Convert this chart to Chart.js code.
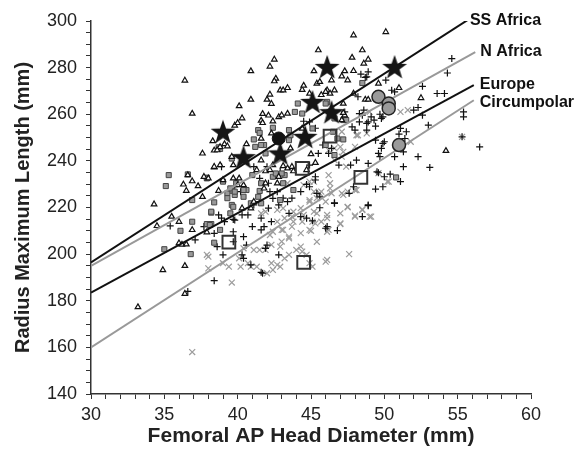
<!DOCTYPE html>
<html lang="en">
<head>
  <meta charset="UTF-8" />
  <title>Radius Maximum Length vs Femoral AP Head Diameter</title>
  <script src="https://cdn.jsdelivr.net/npm/chart.js"></script>
  <style>
    body { margin: 0; background: #fff; }
    #wrap { width: 582px; height: 452px; }
  </style>
</head>
<body>
  <div id="wrap"><canvas id="chart" width="582" height="452"></canvas></div>
  <script>
    // small open triangles
    const ssAfrica = [
      [36.4,274.5],[36.9,260.3],[40.9,278.5],[42.5,283.5],[42.2,280.5],[42.6,275.3],[42.5,274.2],[42.9,270.3],
      [43.1,270.3],[43.4,271.3],[40.9,266.3],[40.1,263.5],[40.3,258.3],[39.8,255.2],[40.0,256.3],[38.3,248.5],
      [37.6,243.2],[38.4,244.5],[39.1,247.2],[39.3,246.3],[42.2,268.5],[42.0,266.3],[42.3,264.5],[41.7,260.2],
      [42.1,259.5],[41.6,257.3],[41.7,256.3],[42.4,257],[42.8,258.8],[43.0,259.6],[45.5,287.5],[45.2,278.5],
      [44.4,270.5],[44.5,272.3],[45.4,273.2],[45.7,268.3],[46.1,270.3],[44.4,253.9],[45.0,242.9],[40.6,247.2],
      [39.6,241.8],[50.1,295.3],[47.9,293.9],[48.5,287.5],[47.8,284.3],[48.9,283.5],[48.6,281.8],[47.3,278.5],
      [47.9,278.6],[47.1,276.3],[47.5,274.6],[46.4,274.6],[46.6,270.3],[49.6,273.2],[51.0,271.3],[52.5,267],
      [47.2,264.6],[47.3,259.6],[48.7,266.3],[48.9,266.3],[54.2,244.3],[47.9,268.9],[47.2,260.6],[47.1,257.5],
      [34.3,221.4],[35.5,216.1],[34.5,212.1],[36.0,213.9],[34.9,193.2],[36.4,195],[36.0,204.7],[36.2,204.1],
      [36.5,204.2],[36.4,183],[33.2,177.3],[36.3,229.9],[36.6,233.9],[36.9,231.3],[36.5,227.2],[37.3,229.2],
      [37.7,233.2],[38.0,232.5],[38.4,237.2],[38.7,227.2],[36.9,210.4],[37.9,209.4],[39.0,231.8],[39.7,232.5],
      [40.1,232.5],[41.6,240.3],[41.9,230.4],[40.0,229.6],[42.4,238.2],[43.1,237.8],[42.8,233.2],[43.7,237.5],
      [45.3,239.2],[40.4,229.6],[41.8,228.2],[41.1,222.5],[40.9,219.7],[42.7,230.4],[43.8,235.6],[44.7,236.1],
      [43.4,236.8],[37.6,224.6],[40.3,219.7],[41.3,236.1],[41.9,235.6],[43.4,260.3],[38.8,246],[38.6,244.6],
      [41.6,249.6],[42.3,251.8],[43.6,245.4],[45.6,273.9],[46.3,268.9],[46.0,269.6],[44.9,268.9],[38.8,238.2],
      [39.7,238.2],[42.2,236.1],[38.4,237.5]
    ];
    // small grey filled squares
    const nAfrica = [
      [43.9,261],[44.1,264.6],[44.4,260.3],[41.4,253.2],[41.1,249.2],[41.2,246],[38.8,245.1],[42.4,254.2],
      [43.5,253.2],[46.1,265.3],[41.5,252],[43.5,248.9],[43.6,251],[38.7,245.8],[39.6,241],[45.1,253.9],
      [41.8,246.8],[46,264.6],[35.3,233.9],[35.1,229.2],[36.6,234.2],[37.9,232.8],[36.9,223.2],[38.4,222.2],
      [38.2,217.8],[36.9,213.9],[36.1,210],[37.9,212.9],[38.2,212.9],[38.8,210.4],[38.4,204.9],[35.0,202.1],
      [36.8,200],[39.6,227.2],[39.8,225.4],[39.9,230.4],[39.3,226.1],[40.4,224.6],[40.6,227.5],[40.9,221.8],
      [41.6,230.4],[41.9,243.2],[42.4,233.2],[43.8,227.5],[42.9,223.2],[43.1,230.4],[41.6,221.8],[39.5,217.5],
      [39.6,221.1],[41,233.9],[41.5,227.1],[42.6,234.6],[43.2,233.9],[38.1,212.5],[48.5,273.4],[47.2,257.5],
      [47.4,257.5],[46.5,252.5],[47.2,249.2],[46.8,249.6],[50.8,232.9],[46.6,258.2],[46,246.8],[46.6,242.5],
      [41.6,246.8],[37.9,232.5],[39,231.1],[39.5,228.2],[39.8,226.8],[39.3,224],[40.4,227.5],[39.7,220.3],
      [38.2,218.2],[41.4,224.6],[43,234.6]
    ];
    // black plus signs
    const europe = [
      [54.6,283.9],[54.3,277.7],[52.6,272],[53.6,268.9],[54.1,268.9],[50.5,270.3],[50.1,274.6],[48.7,275.8],
      [48.4,277.2],[52.3,262.9],[52.0,261.8],[52.6,259.6],[53.0,255.3],[55.4,261],[55.4,258.9],[51.1,253.9],
      [50.7,269.6],[49.7,260],[49.8,258.2],[56.5,246],[52.3,241.8],[50.7,241.8],[49.9,247.5],[51.5,252.5],
      [51.4,249.6],[49.9,258.9],[48.6,261.8],[48.5,259.6],[48.3,256.7],[48.8,253.2],[48.9,256.7],[49.3,257.5],
      [47.8,254.6],[50,248.2],[49.8,245.4],[51,251.5],[51.3,237.5],[53.1,237.2],[48.2,267.5],[48.8,276],
      [49.6,234.9],[50,233.2],[50.4,234.3],[51.1,231.1],[49.4,227.9],[49.9,228.9],[48.9,221.1],[48.5,216.1],
      [46.8,210.1],[46,211.1],[45.1,214.3],[45.6,219.9],[46.6,222],[45.4,226.1],[44.7,229.9],[45.3,233.2],
      [46.2,243.2],[47.7,238.2],[48.9,238.9],[48.1,240.3],[46.9,238.2],[49.6,243.2],[44.9,238.2],[45.3,231.8],
      [44.9,228.9],[44.3,226.8],[43.7,224],[43.1,224],[43.4,222.5],[42.1,219.7],[42.3,213.9],[41.8,211.8],
      [41.6,210.4],[42,203.9],[41.9,202.5],[40.4,207.5],[40.6,203.9],[40.4,198.2],[39,199.7],[41.6,192.2],
      [40.9,195.4],[39.7,209.6],[39.8,214.6],[40.3,216.8],[41.5,222.5],[42.2,226.8],[42.4,223.9],[42.8,221.1],
      [43.5,217.5],[44.3,216.1],[44.7,215.4],[46.1,211.8],[45.6,224.6],[38.7,216.8],[38.9,215.4],[38.4,208.9],
      [39.8,228.9],[40.2,226.8],[38.4,188.6],[36.6,184],[41.7,191.8],[35.4,212.1],[37.1,206.1],[39.1,213.9],
      [39.7,214.9],[37.7,211.8],[49.5,235.3],[48.9,220.8],[46.6,221.8],[47.9,228.9],[47.6,226.1],[55.3,250.3],
      [45.3,254],[44.5,257],[44.9,256.7],[45.8,246.8],[45.5,243.2],[46.4,245.4],[42,237.5],[41.1,237.5],
      [38.9,237.5],[48.9,278.2],[47.3,261],[48.3,260.3],[49.1,258.9],[48.8,256.1],[49.4,254.9],[48,253.2],
      [49.4,248.9],[51.3,243.9],[49.7,241.8],[42.9,235.4],[41.5,232.5],[42.1,230.4],[42.7,226.8],[41.1,221.1],
      [40.7,216.8],[41.6,215.4],[41,211.8],[39.7,205.3],[40.3,199.7],[38.6,203.2],[42.8,199.7]
    ];
    // grey x marks
    const circumpolar = [
      [38,198.9],[39.4,194.6],[38,193.9],[39.6,187.8],[40.9,194.6],[41.3,194.6],[42.3,196.1],[42.9,194.6],
      [43.5,206.8],[41.9,201.8],[42.9,203.2],[43.2,198.2],[44,201.8],[44.9,196.1],[46.1,197.5],[42,191.8],
      [42.4,193.2],[41.1,201.8],[43.8,213.9],[44.4,213.9],[45.1,213.9],[45.7,213.9],[46.2,210.4],[43,210.4],
      [42.2,208.2],[42.7,219],[43.1,219.7],[43.7,216.1],[45.2,226.8],[44.9,223.2],[45.6,226.1],[46.2,233.9],
      [45.2,231.1],[41.6,217.5],[45,210],[45.4,217.5],[46.1,215.4],[47,217.5],[47.5,220.1],[48.5,219.2],
      [48,216.1],[49.1,216.1],[47,212.9],[46,222.5],[47.1,226.1],[47.5,226.8],[48,227.5],[50.2,231.1],
      [49.6,234.7],[47.6,200],[46,196.8],[45.1,194.6],[44.4,201.1],[46.3,230.4],[37.9,199.7],[40.1,198.2],
      [40.4,202.5],[43.5,199.7],[43.5,207.5],[44.3,209],[44.9,210.4],[46.1,216.8],[42.7,213.9],[42.3,204],
      [41.5,201.8],[43,205.4],[41.9,218.2],[42.9,223.2],[44.3,219.7],[44.9,222.5],[45.4,224],[45.7,226.8],
      [46.4,226.1],[44.9,231.1],[44.5,229.6],[43.4,230.4],[43.8,218.2],[43.2,215.4],[48,216.5],[49,216.1],
      [48.5,218.9],[47.5,220.3],[47.2,225.4],[48.1,227.5],[47,213.2],[46.3,228.2],[50.3,231.1],[36.9,158],
      [49,261],[51.1,261],[48.8,251.8],[48.2,251],[48,246],[46.6,245.4],[47.1,241.8],[47.4,237.5],
      [51.8,248.2],[46.2,244.6],[46.6,240.3],[55.3,250.3],[51.6,261.8],[47.1,252.5],[48.1,251],[47,246],
      [47.2,243.9],[39,196.1],[40.2,194.6],[40.7,196.1],[42.7,195.4],[44.3,203.2],[44.7,199.7],[45.4,205.3],
      [46.1,209.6],[43.1,210.4],[42.4,209.6],[43.7,211.8],[44.5,216.8],[45.2,218.2],[45.3,213.2]
    ];
    // large symbols
    const starPts = [[39.0,252.5],[40.4,241.6],[42.9,243.2],[44.6,250.3],[45.1,265.3],[46.4,260.9],[46.1,280.3],[50.7,280.3]];
    const blackCirclePts = [[42.8,249.6]];
    const greyCirclePts = [[49.6,267.5],[50.3,264.6],[50.3,262.5],[51.0,246.8]];
    const openSquarePts = [[44.4,236.8],[39.4,205.1],[44.5,196.5],[48.4,232.9],[46.3,250.6]];

    // regression lines: names and end points
    const fitNames = ['SS Africa', 'N Africa', 'Europe', 'Circumpolar'];
    const fitX0 = [30, 30, 30, 30];
    const fitY0 = [196.4, 195, 183.5, 160];
    const fitX1 = [55.7, 56.2, 56.1, 56.1];
    const fitY1 = [300.5, 286.7, 272.5, 266];

    const toXY = arr => arr.map(p => ({ x: p[0], y: p[1] }));
    const FONT = '"Liberation Sans", Arial, Helvetica, sans-serif';

    function makeStar(r) {
      const c = document.createElement('canvas');
      c.width = c.height = Math.ceil(r * 2) + 2;
      const g = c.getContext('2d');
      const cx = c.width / 2, cy = c.height / 2 + 1;
      g.beginPath();
      for (let i = 0; i < 10; i++) {
        const rr = i % 2 ? r * 0.4 : r;
        const a = -Math.PI / 2 + i * Math.PI / 5;
        g.lineTo(cx + rr * Math.cos(a), cy + rr * Math.sin(a));
      }
      g.closePath();
      g.fillStyle = '#151515';
      g.fill();
      return c;
    }

    const fitColors = ['#111', '#999', '#111', '#999'];
    const labelDx = [2, 5, 6, 6];
    const labelDy = [1, 0, -1, 2];

    const fitSets = fitNames.map((n, i) => ({
      label: n,
      isFit: true,
      data: [{ x: fitX0[i], y: fitY0[i] }, { x: fitX1[i], y: fitY1[i] }],
      showLine: true,
      borderColor: fitColors[i],
      borderWidth: 2,
      pointRadius: 0,
      fill: false
    }));

    const lineLabels = {
      id: 'lineLabels',
      afterDraw(chart) {
        const ctx = chart.ctx;
        ctx.save();
        ctx.font = 'bold 16px ' + FONT;
        ctx.fillStyle = '#111';
        ctx.textBaseline = 'middle';
        chart.data.datasets.forEach((ds, i) => {
          if (!ds.isFit) return;
          const k = fitNames.indexOf(ds.label);
          const pt = chart.getDatasetMeta(i).data[1];
          ctx.fillText(ds.label, pt.x + labelDx[k], pt.y + labelDy[k]);
        });
        ctx.restore();
      }
    };

    const ctx = document.getElementById('chart').getContext('2d');
    new Chart(ctx, {
      type: 'scatter',
      data: {
        datasets: [
          { label: 'stars', data: toXY(starPts), pointStyle: makeStar(13), pointRadius: 13 },
          { label: 'black circle', data: toXY(blackCirclePts), pointStyle: 'circle', pointRadius: 6.5,
            pointBackgroundColor: '#111', pointBorderColor: '#111', pointBorderWidth: 1 },
          { label: 'grey circles', data: toXY(greyCirclePts), pointStyle: 'circle', pointRadius: 6.5,
            pointBackgroundColor: '#9a9a9a', pointBorderColor: '#222', pointBorderWidth: 1.5 },
          { label: 'open squares', data: toXY(openSquarePts), pointStyle: 'rect', pointRadius: 9,
            pointBackgroundColor: 'rgba(0,0,0,0)', pointBorderColor: '#333', pointBorderWidth: 2 },
          ...fitSets,
          { label: 'triangles', data: toXY(ssAfrica), pointStyle: 'triangle', pointRadius: 3.2,
            pointBackgroundColor: '#fff', pointBorderColor: '#111', pointBorderWidth: 1.2 },
          { label: 'squares', data: toXY(nAfrica), pointStyle: 'rect', pointRadius: 3.6,
            pointBackgroundColor: '#999', pointBorderColor: '#444', pointBorderWidth: 1 },
          { label: 'plus', data: toXY(europe), pointStyle: 'cross', pointRadius: 3.5,
            pointBorderColor: '#111', pointBorderWidth: 1.2 },
          { label: 'x', data: toXY(circumpolar), pointStyle: 'crossRot', pointRadius: 4.2,
            pointBorderColor: '#9c9c9c', pointBorderWidth: 1.2 }
        ]
      },
      options: {
        responsive: false,
        animation: false,
        devicePixelRatio: 1,
        layout: { padding: { top: 21, right: 51, left: 0, bottom: 0 } },
        plugins: { legend: { display: false }, tooltip: { enabled: false } },
        scales: {
          x: {
            type: 'linear', min: 30, max: 60,
            afterFit: s => { s.height = 58; },
            ticks: {
              stepSize: 1, autoSkip: false, maxRotation: 0, padding: 5, color: '#222',
              font: { family: FONT, size: 18 },
              callback: v => (v % 5 === 0 ? String(v) : '')
            },
            grid: { drawOnChartArea: false, tickLength: 5, color: '#333', lineWidth: 1 },
            border: { color: '#333', width: 1.5 },
            title: {
              display: true, text: 'Femoral AP Head Diameter (mm)', color: '#222',
              font: { family: FONT, size: 21, weight: 'bold' }, padding: { top: 0, bottom: 3 }
            }
          },
          y: {
            type: 'linear', min: 140, max: 300,
            afterFit: s => { s.width = 91; },
            ticks: {
              stepSize: 5, autoSkip: false, padding: 9, color: '#222',
              font: { family: FONT, size: 18 },
              callback: v => (v % 20 === 0 ? String(v) : '')
            },
            grid: { drawOnChartArea: false, tickLength: 5, color: '#333', lineWidth: 1 },
            border: { color: '#333', width: 1.5 },
            title: {
              display: true, text: 'Radius Maximum Length (mm)', color: '#222',
              font: { family: FONT, size: 20, weight: 'bold' }, padding: { top: 11, bottom: 0 }
            }
          }
        }
      },
      plugins: [lineLabels]
    });
  </script>
</body>
</html>
